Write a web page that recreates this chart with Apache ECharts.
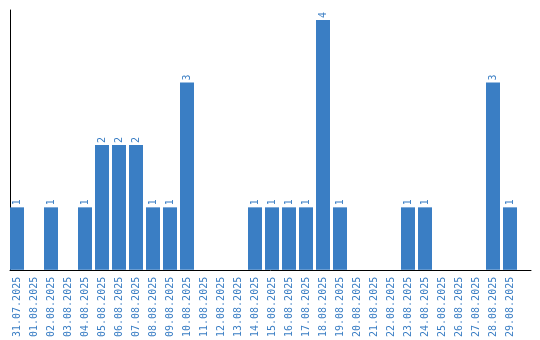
<!DOCTYPE html>
<html>
<head>
<meta charset="utf-8">
<script src="https://cdn.jsdelivr.net/npm/echarts@6/dist/echarts.min.js"></script>
<style>html,body{margin:0;padding:0;background:#fff}#c{width:540px;height:340px}</style>
</head>
<body>
<div id="c"></div>
<script>
const categories = ["31.07.2025","01.08.2025","02.08.2025","03.08.2025","04.08.2025","05.08.2025","06.08.2025","07.08.2025","08.08.2025","09.08.2025","10.08.2025","11.08.2025","12.08.2025","13.08.2025","14.08.2025","15.08.2025","16.08.2025","17.08.2025","18.08.2025","19.08.2025","20.08.2025","21.08.2025","22.08.2025","23.08.2025","24.08.2025","25.08.2025","26.08.2025","27.08.2025","28.08.2025","29.08.2025"];
const values = [1,0,1,0,1,2,2,2,1,1,3,0,0,0,1,1,1,1,4,1,0,0,0,1,1,0,0,0,3,1];

const color = '#3a7ec4';
const font = 'DejaVu Sans Mono';
const chart = echarts.init(document.getElementById('c'));
chart.setOption({
  animation: false,
  grid: [
    {left: 8.5, width: 510, top: 10, bottom: 70},
    {left: 10, width: 521, top: 10, bottom: 70}
  ],
  xAxis: [
    {
      type: 'category', data: categories, gridIndex: 0,
      axisLine: {show: false}, axisTick: {show: false},
      axisLabel: {rotate: 90, color: color, fontFamily: font, fontSize: 10, margin: 7, interval: 0}
    },
    {
      type: 'value', gridIndex: 1, min: 0, max: 1,
      axisLine: {show: true, lineStyle: {color: '#000', width: 1}},
      axisTick: {show: false}, axisLabel: {show: false}, splitLine: {show: false}
    }
  ],
  yAxis: [
    {
      type: 'value', gridIndex: 0, min: 0, max: 4.16,
      axisLine: {show: false}, axisTick: {show: false},
      axisLabel: {show: false}, splitLine: {show: false}
    },
    {
      type: 'value', gridIndex: 1, min: 0, max: 1,
      axisLine: {show: true, lineStyle: {color: '#000', width: 1}},
      axisTick: {show: false}, axisLabel: {show: false}, splitLine: {show: false}
    }
  ],
  series: [{
    type: 'bar', xAxisIndex: 0, yAxisIndex: 0,
    data: values.map(v => v === 0 ? null : v),
    barWidth: 14,
    itemStyle: {color: color},
    label: {
      show: true, position: 'top', rotate: 90, align: 'left', verticalAlign: 'middle',
      distance: 2, color: color, fontFamily: font, fontSize: 10
    }
  }]
});
</script>
</body>
</html>
